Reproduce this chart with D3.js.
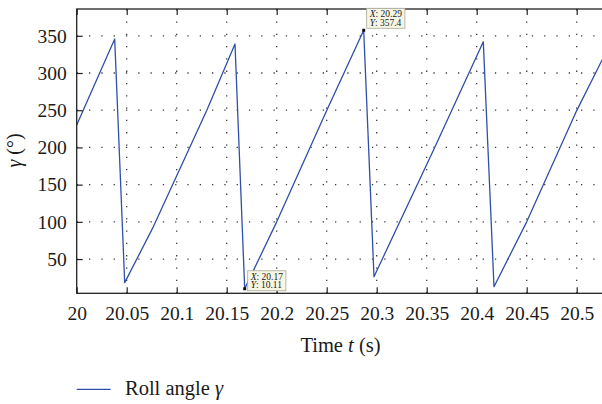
<!DOCTYPE html>
<html>
<head>
<meta charset="utf-8">
<script src="https://cdn.jsdelivr.net/npm/d3@7"></script>
<style>
  html, body { margin: 0; padding: 0; background: #fff; }
  svg { display: block; }
  text { font-family: "Liberation Serif", "DejaVu Serif", serif; fill: #1a1a1a; }
</style>
</head>
<body>
<svg id="chart" width="602" height="404"></svg>
<script>
// Roll angle samples: time (s) and angle (deg)
const timeS = [20.000, 20.038, 20.048, 20.0766, 20.130, 20.1583,
               20.168, 20.200, 20.250, 20.287,
               20.2973, 20.3566, 20.375, 20.4066,
               20.4173, 20.450, 20.500, 20.525, 20.530];
const rollDeg = [230, 345.6, 18.3, 93.3, 249.5, 338.9,
                 10.11, 100, 249.5, 357.4,
                 26.3, 196, 249.5, 342,
                 12.9, 100, 249.5, 316.5, 330];
const xTicks = [20, 20.05, 20.1, 20.15, 20.2, 20.25, 20.3, 20.35, 20.4, 20.45, 20.5];
const yTicks = [50, 100, 150, 200, 250, 300, 350];
// indices of the annotated samples (data tips)
const tipIndex = [6, 9];

const serif = '"Liberation Serif", "DejaVu Serif", serif';
const svg = d3.select("#chart");
const plotL = 76.7, plotR = 606.7, plotT = 9, plotB = 293.3;

const x = d3.scaleLinear().domain([20, 20.53]).range([plotL, plotR]);
const y = d3.scaleLinear().domain([4, 386]).range([plotB, plotT]);

svg.append("defs").append("clipPath").attr("id", "plotClip")
  .append("rect").attr("x", plotL).attr("y", plotT)
  .attr("width", plotR - plotL).attr("height", plotB - plotT);

// dotted grid
const grid = svg.append("g").attr("stroke", "#3a3a3a").attr("stroke-width", 1.3)
  .attr("stroke-dasharray", "1.3,11");
grid.selectAll(".vg").data(xTicks.slice(1)).join("line")
  .attr("x1", d => x(d)).attr("x2", d => x(d))
  .attr("y1", plotB).attr("y2", plotT);
grid.selectAll(".hg").data(yTicks).join("line")
  .attr("x1", plotL).attr("x2", plotR)
  .attr("y1", d => y(d)).attr("y2", d => y(d));

// series line
const line = d3.line().x((d, i) => x(timeS[i])).y(d => y(d));
svg.append("path")
  .datum(rollDeg)
  .attr("clip-path", "url(#plotClip)")
  .attr("fill", "none")
  .attr("stroke", "#2f4fa8")
  .attr("stroke-width", 1.3)
  .attr("stroke-linejoin", "round")
  .attr("d", line);

// axes: bottom and left with inward ticks, top with inward ticks
const xAxis = d3.axisBottom(x).tickValues(xTicks).tickSize(-6).tickPadding(12)
  .tickFormat(d => String(+d.toFixed(2)));
const gx = svg.append("g").attr("transform", `translate(0,${plotB})`).call(xAxis);
gx.selectAll("text").attr("dy", "0.71em").attr("y", 12.5);

const gxt = svg.append("g").attr("transform", `translate(0,${plotT})`)
  .call(d3.axisTop(x).tickValues(xTicks).tickSize(-6).tickFormat(""));

const yAxis = d3.axisLeft(y).tickValues(yTicks).tickSize(-6).tickPadding(10);
const gy = svg.append("g").attr("transform", `translate(${plotL},0)`).call(yAxis);

[gx, gxt, gy].forEach(g => {
  g.attr("font-family", serif);
  g.select(".domain").remove();
  g.selectAll(".tick line").attr("stroke", "#222").attr("stroke-width", 1.2);
  g.selectAll(".tick text").attr("fill", "#1a1a1a")
    .style("font-family", serif).style("font-size", "19.5px");
});

// frame
svg.append("rect").attr("x", plotL).attr("y", plotT)
  .attr("width", plotR - plotL).attr("height", plotB - plotT)
  .attr("fill", "none").attr("stroke", "#222").attr("stroke-width", 1.3);

// data tips
const fmtTip = d3.format(".4");
const tips = svg.append("g");
tipIndex.forEach((k, n) => {
  const px = x(timeS[k]), py = y(rollDeg[k]);
  const g = tips.append("g");
  const rect = g.append("rect").attr("fill", "#f7f6e4").attr("stroke", "#a8a898").attr("stroke-width", 0.8);
  const t1 = g.append("text").style("font-size", "9.5px");
  t1.append("tspan").style("font-style", "italic").text("X");
  t1.append("tspan").text(": " + fmtTip(timeS[k]));
  const t2 = g.append("text").style("font-size", "9.5px");
  t2.append("tspan").style("font-style", "italic").text("Y");
  t2.append("tspan").text(": " + fmtTip(rollDeg[k]));
  const w = Math.max(t1.node().getComputedTextLength(), t2.node().getComputedTextLength()) + 6;
  const h = 20;
  const bx = px + 3;
  const by = n === 0 ? py + 2 - h : py - 22;
  rect.attr("x", bx).attr("y", by).attr("width", w).attr("height", h);
  t1.attr("x", bx + 3).attr("y", by + 9);
  t2.attr("x", bx + 3).attr("y", by + 17.5);
  g.append("rect").attr("x", px - 1.5).attr("y", py - 1.5).attr("width", 3).attr("height", 3)
    .attr("fill", "#111");
});

// axis labels
const xl = svg.append("text").attr("x", 340.5).attr("y", 351.5).attr("text-anchor", "middle")
  .style("font-size", "20.5px");
xl.append("tspan").text("Time ");
xl.append("tspan").style("font-style", "italic").text("t");
xl.append("tspan").text(" (s)");

const yl = svg.append("text").attr("transform", "translate(21,150.5) rotate(-90)")
  .attr("text-anchor", "middle").style("font-size", "20px");
yl.append("tspan").style("font-style", "italic").text("γ");
yl.append("tspan").text(" (°)");

// legend
svg.append("line").attr("x1", 76.7).attr("x2", 110.7).attr("y1", 389.3).attr("y2", 389.3)
  .attr("stroke", "#2f4fa8").attr("stroke-width", 1.3);
const lg = svg.append("text").attr("x", 125).attr("y", 394.5).style("font-size", "20.5px");
lg.append("tspan").text("Roll angle ");
lg.append("tspan").style("font-style", "italic").text("γ");
</script>
</body>
</html>
